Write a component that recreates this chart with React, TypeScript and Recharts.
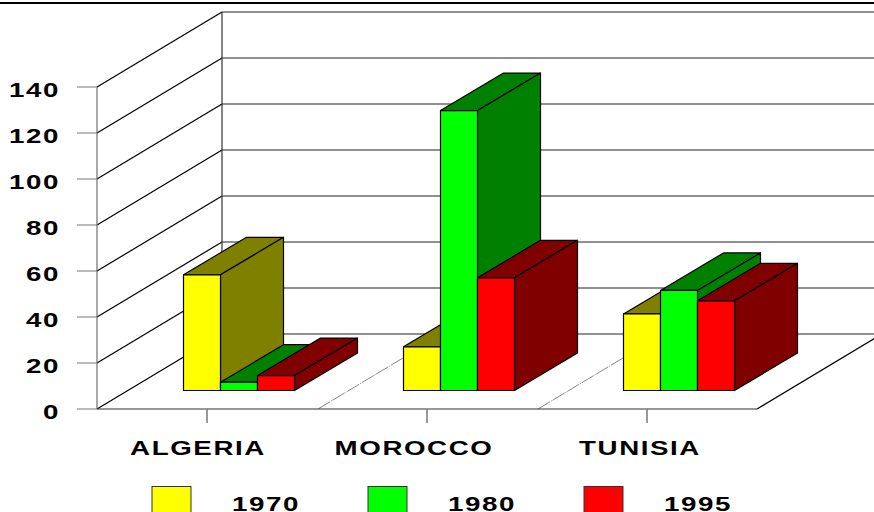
import React from "react";
import { BarChart, Bar, XAxis, YAxis, ReferenceLine, Legend } from "recharts";

const categories = ["ALGERIA", "MOROCCO", "TUNISIA"];
const values1970 = [50.3, 19, 33.3];
const values1980 = [3.6, 121.7, 43.5];
const values1995 = [6.5, 49, 39];
const yTicks = [0, 20, 40, 60, 80, 100, 120, 140];
const seriesNames = ["1970", "1980", "1995"];

const data = categories.map((name, i) => ({
  name,
  v1970: values1970[i],
  v1980: values1980[i],
  v1995: values1995[i],
}));

const WIDTH = 874;
const HEIGHT = 512;
const WALL_DX = 125;
const WALL_DY = -75;
const BAR_DX = 63;
const BAR_DY = -37.5;
const SHIFT_X = 31.5;
const SHIFT_Y = -18.5;
const STRETCH = 1.32;
const SPACING = 1.2;
const FONT_SIZE = 21;
const FONT = "'Liberation Sans', Arial, sans-serif";
const LABEL_DX: Record<string, number> = { ALGERIA: -9, MOROCCO: -13, TUNISIA: -7 };

const sideColors: Record<string, string> = {
  "#ffff00": "#808000",
  "#00ff00": "#008000",
  "#ff0000": "#800000",
};

const Box3D = (props: any) => {
  const { x, y, width, height, fill } = props;
  const left = x + SHIFT_X;
  const right = left + width;
  const top = y + SHIFT_Y;
  const bottom = top + height;
  const dark = sideColors[fill];
  return (
    <g stroke="#000" strokeWidth={1.2} strokeLinejoin="round">
      <polygon
        fill={dark}
        points={`${left},${top} ${left + BAR_DX},${top + BAR_DY} ${right + BAR_DX},${top + BAR_DY} ${right},${top}`}
      />
      <polygon
        fill={dark}
        points={`${right},${top} ${right + BAR_DX},${top + BAR_DY} ${right + BAR_DX},${bottom + BAR_DY} ${right},${bottom}`}
      />
      <rect x={left} y={top} width={width} height={height} fill={fill} />
    </g>
  );
};

const WallLine = (props: any) => {
  const { x1, y1 } = props;
  return (
    <g fill="none" stroke="#000" strokeWidth={1.2}>
      <line x1={x1} y1={y1} x2={x1 + WALL_DX} y2={y1 + WALL_DY} />
      <line x1={x1 + WALL_DX} y1={y1 + WALL_DY} x2={WIDTH} y2={y1 + WALL_DY} stroke="#222" />
    </g>
  );
};

const FloorLines = (props: any) => {
  const { x1, x2, y1 } = props;
  const band = (x2 - x1) / categories.length;
  return (
    <g fill="none">
      <line x1={x1 + WALL_DX} y1={y1 + WALL_DY} x2={x1 + WALL_DX} y2={y1 + WALL_DY - 322} stroke="#333" strokeWidth={1.2} />
      {[1, 2].map((k) => (
        <line
          key={k}
          x1={x1 + band * k + 1}
          y1={y1}
          x2={x1 + band * k + 1 + WALL_DX}
          y2={y1 + WALL_DY}
          stroke="#888"
          strokeWidth={1}
          strokeDasharray="14 1 1 1"
        />
      ))}
      <line x1={x2} y1={y1} x2={x2 + WALL_DX} y2={y1 + WALL_DY} stroke="#000" strokeWidth={1.2} />
    </g>
  );
};

const YTick = (props: any) => {
  const { x, y, payload } = props;
  return (
    <text
      transform={`translate(${x - 15},${y + 10}) scale(${STRETCH},1)`}
      textAnchor="end"
      fontFamily={FONT}
      fontWeight="bold"
      fontSize={FONT_SIZE}
      letterSpacing={SPACING}
      fill="#000"
    >
      {payload.value}
    </text>
  );
};

const XTick = (props: any) => {
  const { x, payload } = props;
  return (
    <text
      transform={`translate(${x + LABEL_DX[payload.value]},455) scale(${STRETCH},1)`}
      textAnchor="middle"
      fontFamily={FONT}
      fontWeight="bold"
      fontSize={FONT_SIZE}
      letterSpacing={SPACING}
      fill="#000"
    >
      {payload.value}
    </text>
  );
};

const LegendContent = (props: any) => {
  const items = props.payload || [];
  return (
    <svg width={WIDTH} height={HEIGHT} style={{ position: "absolute", left: 0, top: 0, display: "block" }}>
      {items.map((item: any, i: number) => (
        <g key={item.value}>
          <rect x={152 + 216 * i} y={486.5} width={39} height={30} fill={item.color} stroke="#333" />
          <text
            transform={`translate(${232 + 216 * i},511) scale(${STRETCH},1)`}
            fontFamily={FONT}
            fontWeight="bold"
            fontSize={FONT_SIZE}
            letterSpacing={SPACING}
            fill="#000"
          >
            {item.value}
          </text>
        </g>
      ))}
    </svg>
  );
};

export default function App() {
  return (
    <div style={{ position: "absolute", left: 0, top: 0, width: WIDTH, height: HEIGHT, overflow: "hidden", background: "#fff" }}>
      <div style={{ position: "absolute", left: 0, top: 2, width: WIDTH, height: 2, background: "#000" }} />
      <BarChart
        width={WIDTH}
        height={HEIGHT}
        data={data}
        margin={{ top: 87, right: 117, bottom: 0, left: 0 }}
        barGap={0}
        barSize={37}
        style={{ overflow: "visible" }}
      >
        <XAxis
          dataKey="name"
          height={103}
          tickSize={14}
          stroke="#333"
          tick={<XTick />}
          tickLine={{ stroke: "#777", strokeWidth: 1.5 }}
          interval={0}
        />
        <YAxis
          width={97}
          domain={[0, 140]}
          ticks={yTicks}
          tickSize={20}
          stroke="#555"
          tick={<YTick />}
          tickLine={{ stroke: "#777" }}
          interval={0}
        />
        {yTicks.map((t) => (
          <ReferenceLine key={t} y={t} ifOverflow="visible" shape={<WallLine />} zIndex={-10} />
        ))}
        <ReferenceLine y={0} ifOverflow="visible" shape={<FloorLines />} zIndex={-10} />
        <Bar dataKey="v1970" name={seriesNames[0]} fill="#ffff00" shape={<Box3D />} isAnimationActive={false} />
        <Bar dataKey="v1980" name={seriesNames[1]} fill="#00ff00" shape={<Box3D />} isAnimationActive={false} />
        <Bar dataKey="v1995" name={seriesNames[2]} fill="#ff0000" shape={<Box3D />} isAnimationActive={false} />
        <Legend
          content={<LegendContent />}
          wrapperStyle={{ position: "absolute", left: 0, top: 0, width: 0, height: 0, pointerEvents: "none" }}
        />
      </BarChart>
    </div>
  );
}
